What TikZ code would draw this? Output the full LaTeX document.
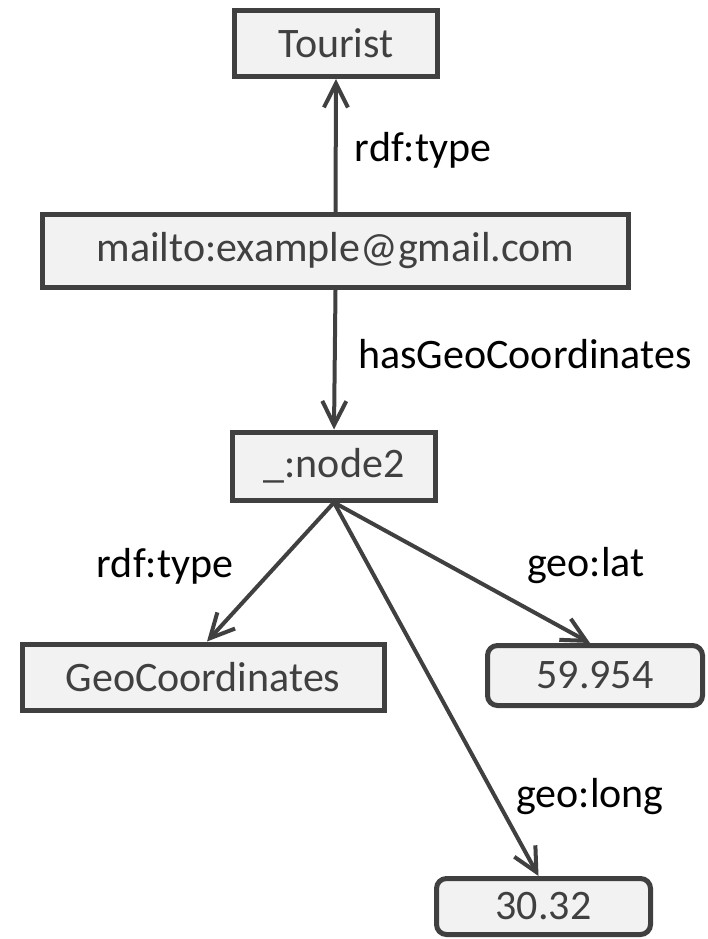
\documentclass[tikz,border=0pt]{standalone}
\usepackage{fontspec}
\setmainfont{Carlito}
\usetikzlibrary{arrows.meta}
\definecolor{dk}{HTML}{404040}
\definecolor{fl}{HTML}{F2F2F2}
\tikzset{
  res/.style={draw=dk, fill=fl, line width=5pt, text=dk, inner sep=0pt, font=\fontsize{42}{50}\selectfont},
  lit/.style={res, rounded corners=10pt},
  edge/.style={draw=dk, line width=4pt, -{Straight Barb[length=24pt,width=24pt,line width=4pt]}},
  lbl/.style={text=black, inner sep=0pt, font=\fontsize{42}{50}\selectfont}
}
\begin{document}
\begin{tikzpicture}[x=1pt,y=-1pt]
\useasboundingbox (0,0) rectangle (707,939);
\node[res, minimum width=203pt, minimum height=66pt] (tourist) at (336,43.5) {Tourist};
\node[res, minimum width=586pt, minimum height=73pt] (mail) at (335.5,251) {mailto:example@gmail.com};
\node[res, minimum width=203pt, minimum height=68pt] (n2) at (334,466) {\_:node2};
\node[res, minimum width=362pt, minimum height=66pt] (gc) at (203,677) {GeoCoordinates};
\node[lit, minimum width=215pt, minimum height=60pt] (lat) at (595,675.5) {59.954};
\node[lit, minimum width=214pt, minimum height=56pt] (long) at (543.5,906.5) {30.32};
\draw[edge] (mail.north) -- (tourist.south);
\draw[edge] (mail.south) -- (n2.north);
\draw[edge] (n2.south) -- ([xshift=4pt]gc.north);
\draw[edge] (n2.south) -- ([xshift=-5pt]lat.north);
\draw[edge] (n2.south) -- ([xshift=-5pt]long.north);
\node[lbl] (l1) at (423,150) {rdf:type};
\node[lbl] (l2) at (525,354) {hasGeoCoordinates};
\node[lbl] (l3) at (165,566) {rdf:type};
\node[lbl] (l4) at (586,566) {geo:lat};
\node[lbl] (l5) at (590,797) {geo:long};
\end{tikzpicture}
\end{document}
